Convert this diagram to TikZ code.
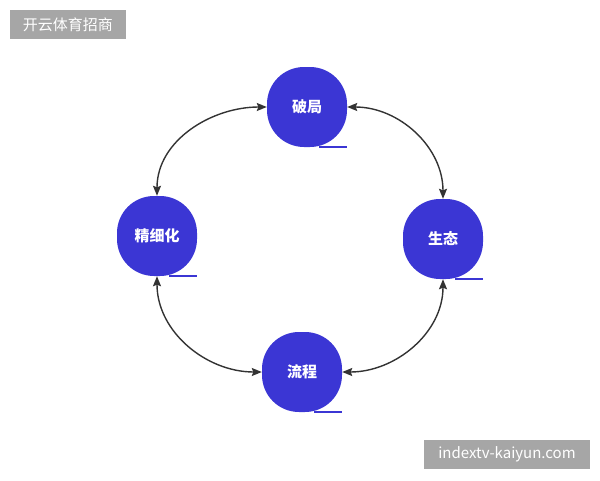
\documentclass[tikz,border=0pt]{standalone}
\usepackage{fontspec}
\usepackage{xcolor}
\usetikzlibrary{arrows.meta,positioning,calc}
\setmainfont{Noto Sans CJK SC}
\newfontfamily\cjk{Noto Sans CJK SC}
\definecolor{blob}{RGB}{59,54,212}
\definecolor{mark}{RGB}{166,166,166}
\definecolor{link}{RGB}{51,51,51}

\begin{document}
\begin{tikzpicture}[x=1pt, y=-1pt,
    stage/.style={rectangle, rounded corners=37pt, fill=blob,
                  minimum width=80pt, minimum height=80pt, inner sep=0pt,
                  font=\fontsize{15}{17}\selectfont\cjk\bfseries, text=white},
    tail/.style={draw=blob, line width=2pt},
    arr/.style={{Stealth[length=10pt,width=8pt,inset=1.5pt]}-{Stealth[length=10pt,width=8pt,inset=1.5pt]},
                line width=1.4pt, draw=link},
    tag/.style={fill=mark, text=white, inner sep=0pt,
                font=\fontsize{15}{17}\selectfont\cjk}]

    \useasboundingbox (0,0) rectangle (600,480);

    % cycle stages
    \node[stage] (break) at (307,107) {破局};
    \node[stage] (eco)   at (443,239) {生态};
    \node[stage] (flow)  at (302,372) {流程};
    \node[stage] (fine)  at (157,236) {精细化};

    % little base lines
    \foreach \n in {break,eco,flow,fine}
      \draw[tail] ([xshift=12pt]\n.south) -- (\n.south east);

    % links
    \draw[arr] (break.west) to[out=180, in=90] (fine.north);
    \draw[arr] (break.east) to[out=0,   in=90] (eco.north);
    \draw[arr] (fine.south) to[out=-90, in=180] (flow.west);
    \draw[arr] (eco.south)  to[out=-90, in=0]   (flow.east);

    % watermarks
    \node[tag, minimum width=116pt, minimum height=29pt] (wmtop) at (68,24.5) {开云体育招商};
    \node[tag, minimum width=166pt, minimum height=29pt] (wmbot) at (507,454.5) {indextv-kaiyun.com};
\end{tikzpicture}
\end{document}
